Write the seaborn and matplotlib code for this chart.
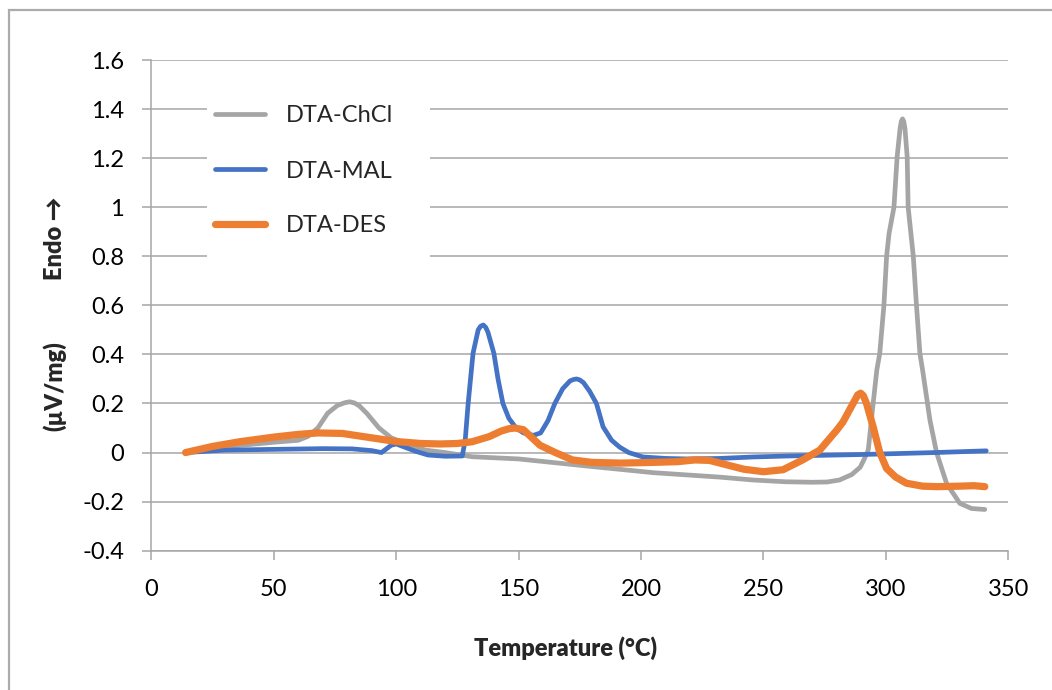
import numpy as np
import pandas as pd
import matplotlib
matplotlib.use("Agg")
import matplotlib.pyplot as plt
from matplotlib.patches import Rectangle
import seaborn as sns

# DTA curves: temperature (°C) and signal (µV/mg)
chcl_t = [14, 22, 35, 50, 60, 64, 68, 72, 76, 79, 81, 83, 85, 88, 93, 98, 102, 107, 112,
          120, 131, 150, 178, 205, 232, 246, 259, 270, 276, 281, 286, 289.5, 291, 292.8,
          294.8, 296.3, 297.5, 299.2, 300.3, 301.3, 303.3, 304.6, 305.8, 306.3, 306.8,
          307.3, 307.8, 308.7, 309.1, 311.2, 312.5, 313.9, 315, 318, 320.7, 324.8, 330.2,
          335, 340.4]
chcl_v = [0, 0.01, 0.028, 0.042, 0.05, 0.066, 0.1, 0.16, 0.192, 0.203, 0.207, 0.202,
          0.19, 0.16, 0.1, 0.06, 0.044, 0.025, 0.01, 0.0, -0.017, -0.026, -0.055, -0.082,
          -0.1, -0.112, -0.119, -0.121, -0.12, -0.112, -0.09, -0.06, -0.03, 0.01, 0.2,
          0.336, 0.404, 0.6, 0.8, 0.893, 1.0, 1.206, 1.32, 1.35, 1.36, 1.35, 1.32, 1.206,
          1.0, 0.8, 0.6, 0.404, 0.336, 0.132, 0.0, -0.126, -0.207, -0.228, -0.232]

mal_t = [14, 30, 50, 70, 82, 90, 94, 96, 98, 100, 104, 108, 113, 120, 127, 128.2, 129.4,
         131.4, 133.5, 134.5, 135.6, 136.6, 137.5, 139.9, 141.6, 143.6, 146, 149, 152,
         156, 159, 162, 164.8, 168, 171, 172.5, 173.7, 175, 176.5, 179, 181.8, 184.5,
         188, 191.3, 195, 200.8, 210, 218.6, 232, 245.8, 260, 275, 290, 305, 320, 341]
mal_v = [0, 0.01, 0.013, 0.016, 0.015, 0.008, 0.0, 0.015, 0.03, 0.035, 0.02, 0.005,
         -0.01, -0.015, -0.014, 0.05, 0.2, 0.405, 0.5, 0.515, 0.52, 0.51, 0.49, 0.405,
         0.3, 0.2, 0.14, 0.1, 0.08, 0.07, 0.08, 0.13, 0.2, 0.26, 0.292, 0.298, 0.30,
         0.296, 0.285, 0.25, 0.2, 0.105, 0.05, 0.022, 0.0, -0.018, -0.024, -0.026, -0.024,
         -0.018, -0.014, -0.011, -0.008, -0.004, 0.0, 0.007]

des_t = [14, 25, 36, 50, 60, 68, 78, 90, 100, 110, 118, 125, 131, 138, 143, 146, 148.5,
         152, 158.7, 165, 172, 180, 192, 205, 215, 222, 228, 235, 242, 250, 258, 266,
         273, 280, 282.5, 286.6, 288.5, 289.7, 290.8, 292.1, 294.8, 297.5, 300.3, 304,
         308.4, 315, 321, 330, 336, 340.4]
des_v = [0, 0.025, 0.044, 0.063, 0.074, 0.08, 0.078, 0.06, 0.045, 0.037, 0.035, 0.037,
         0.044, 0.065, 0.088, 0.097, 0.1, 0.093, 0.03, 0.0, -0.03, -0.04, -0.043, -0.04,
         -0.037, -0.03, -0.032, -0.05, -0.068, -0.078, -0.07, -0.03, 0.01, 0.092, 0.125,
         0.2, 0.235, 0.242, 0.232, 0.2, 0.105, 0.0, -0.065, -0.1, -0.125, -0.137, -0.139,
         -0.137, -0.135, -0.139]

series_names = ["DTA-ChCl", "DTA-MAL", "DTA-DES"]
x_ticks = [0, 50, 100, 150, 200, 250, 300, 350]
y_ticks = [-0.4, -0.2, 0, 0.2, 0.4, 0.6, 0.8, 1.0, 1.2, 1.4, 1.6]
y_tick_labels = ["-0.4", "-0.2", "0", "0.2", "0.4", "0.6", "0.8", "1", "1.2", "1.4", "1.6"]

sns.set_theme(style="white")
plt.rcParams["font.family"] = ["Lato", "DejaVu Sans"]

W, H = 1052, 690
FS = 17
fig = plt.figure(figsize=(W / 100, H / 100), dpi=100)
ax = fig.add_axes([151.3 / W, 1 - 550.7 / H, 857.0 / W, 490.7 / H])

grid_c = "#A6A6A6"
styles = [("#A5A5A5", 3.4), ("#4472C4", 3.4), ("#ED7D31", 5.2)]
curves = [(chcl_t, chcl_v), (mal_t, mal_v), (des_t, des_v)]

for name, (t, v), (c, lw) in zip(series_names, curves, styles):
    df = pd.DataFrame({"T": t, "V": v})
    sns.lineplot(data=df, x="T", y="V", ax=ax, color=c, linewidth=lw, sort=False,
                 label=name, zorder=3, solid_capstyle="round", solid_joinstyle="round")

ax.set_xlim(0, 350)
ax.set_ylim(-0.4, 1.6)
ax.set_xticks(x_ticks)
ax.set_xticklabels([str(v) for v in x_ticks])
ax.set_yticks(y_ticks)
ax.set_yticklabels(y_tick_labels)
ax.set_xlabel("")
ax.set_ylabel("")

ax.set_axisbelow(True)
ax.yaxis.grid(True, color=grid_c, linewidth=1.1)
ax.xaxis.grid(False)
for s in ["top", "right"]:
    ax.spines[s].set_visible(False)
for s in ["left", "bottom"]:
    ax.spines[s].set_color(grid_c)
    ax.spines[s].set_linewidth(1.1)
ax.tick_params(axis="both", direction="out", length=6.5, width=1.1, color=grid_c,
               labelsize=FS, labelcolor="black")
ax.tick_params(axis="y", pad=13, left=True)
ax.tick_params(axis="x", pad=14, bottom=True)

# white backing behind the legend
ax.add_patch(Rectangle((207 / W, 1 - 282 / H), (430 - 207) / W, (282 - 66) / H,
                       transform=fig.transFigure, facecolor="white", edgecolor="none",
                       zorder=1))
leg = ax.legend(loc="upper left", bbox_to_anchor=(215 / W, 1 - 105.5 / H),
                bbox_transform=fig.transFigure, frameon=False, fontsize=FS,
                handlelength=2.12, handletextpad=0.89, labelspacing=1.44,
                borderpad=0, borderaxespad=0)
for line in leg.get_lines():
    line.set_solid_capstyle("round")

fig.text(566 / W, 1 - 648 / H, "Temperature (°C)", ha="center", va="center",
         fontsize=FS, fontweight="heavy")
fig.text(55 / W, 1 - 238.5 / H, "Endo →", rotation=90, ha="center", va="center",
         fontsize=FS, fontweight="heavy")
fig.text(55 / W, 1 - 386 / H, "(µV/mg)", rotation=90, ha="center", va="center",
         fontsize=FS, fontweight="heavy")

# chart border
fig.patches.append(Rectangle((9 / W, -0.1), 1.2, 1 - 10 / H + 0.1,
                             transform=fig.transFigure, facecolor="none",
                             edgecolor="#ABABAB", linewidth=1.6, figure=fig))

fig.savefig("out.png", dpi=100, facecolor="white")
